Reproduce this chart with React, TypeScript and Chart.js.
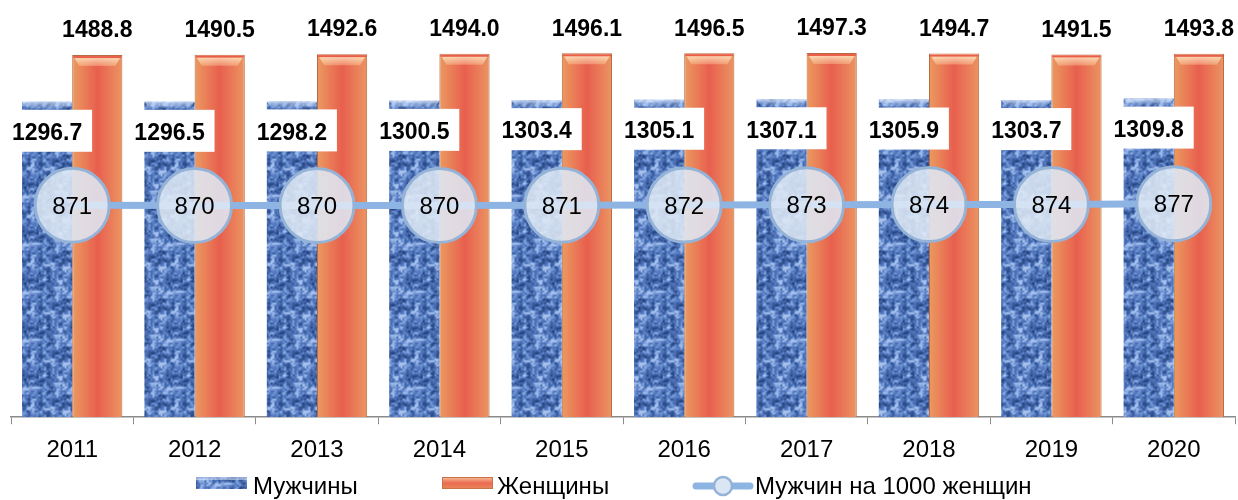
import React, { useEffect, useRef } from "react";
import { Chart, registerables } from "chart.js";

Chart.register(...registerables);

const years = ["2011", "2012", "2013", "2014", "2015", "2016", "2017", "2018", "2019", "2020"];
const men = [1296.7, 1296.5, 1298.2, 1300.5, 1303.4, 1305.1, 1307.1, 1305.9, 1303.7, 1309.8];
const women = [1488.8, 1490.5, 1492.6, 1494.0, 1496.1, 1496.5, 1497.3, 1494.7, 1491.5, 1493.8];
const ratio = [871, 870, 870, 870, 871, 872, 873, 874, 874, 877];
const seriesNames = ["Мужчины", "Женщины", "Мужчин на 1000 женщин"];

const CAT_PCT = 0.82;
const FONT = "'Liberation Sans', Arial, sans-serif";

function hash(x: number, y: number) {
  const h = Math.sin(x * 127.1 + y * 311.7) * 43758.5453;
  return h - Math.floor(h);
}

function makeTexture(): HTMLCanvasElement {
  const S = 48;
  const c = document.createElement("canvas");
  c.width = S;
  c.height = S;
  const g = c.getContext("2d")!;
  const img = g.createImageData(S, S);
  const noise = (x: number, y: number, cell: number) => {
    const n = S / cell;
    const gx = x / cell, gy = y / cell;
    const x0 = Math.floor(gx), y0 = Math.floor(gy);
    const fx = gx - x0, fy = gy - y0;
    const sx = fx * fx * (3 - 2 * fx), sy = fy * fy * (3 - 2 * fy);
    const v = (a: number, b: number) => hash(((a % n) + n) % n, ((b % n) + n) % n);
    const a = v(x0, y0) * (1 - sx) + v(x0 + 1, y0) * sx;
    const b = v(x0, y0 + 1) * (1 - sx) + v(x0 + 1, y0 + 1) * sx;
    return a * (1 - sy) + b * sy;
  };
  for (let y = 0; y < S; y++) {
    for (let x = 0; x < S; x++) {
      let t = 0.6 * noise(x, y, 4) + 0.4 * noise(x + 7, y + 3, 2);
      t = Math.min(1, Math.max(0, (t - 0.15) / 0.7));
      const dark = [38, 68, 128];
      const mid = [88, 126, 196];
      const light = [165, 192, 236];
      let col;
      if (t < 0.55) {
        const k = t / 0.55;
        col = dark.map((d, i) => d + (mid[i] - d) * k);
      } else {
        const k = (t - 0.55) / 0.45;
        col = mid.map((m, i) => m + (light[i] - m) * k);
      }
      const idx = (y * S + x) * 4;
      img.data[idx] = col[0];
      img.data[idx + 1] = col[1];
      img.data[idx + 2] = col[2];
      img.data[idx + 3] = 255;
    }
  }
  g.putImageData(img, 0, 0);
  return c;
}

export default function App() {
  const ref = useRef<HTMLCanvasElement | null>(null);

  useEffect(() => {
    const canvas = ref.current!;
    const ctx0 = canvas.getContext("2d")!;
    const texture = ctx0.createPattern(makeTexture(), "repeat")!;

    const barGeom = (chart: any, index: number, which: number) => {
      const xs = chart.scales.x;
      const center = xs.getPixelForValue(index);
      const catW = (xs.right - xs.left) / years.length;
      const w = (catW * CAT_PCT) / 2;
      const left = which === 0 ? center - w : center;
      return { left, right: left + w };
    };

    const womenBg = (c: any) => {
      if (c.type !== "data" || !c.chart.chartArea) return "#e8704f";
      const { left, right } = barGeom(c.chart, c.dataIndex, 1);
      const g = c.chart.ctx.createLinearGradient(left, 0, right, 0);
      g.addColorStop(0, "#eb9a60");
      g.addColorStop(0.5, "#e85f4e");
      g.addColorStop(1, "#eb9562");
      return g;
    };

    const bevelPlugin = {
      id: "bevel",
      afterDatasetDraw(chart: any, args: any) {
        const ds = chart.data.datasets[args.index];
        if (ds.type === "line") return;
        const c = chart.ctx;
        c.save();
        args.meta.data.forEach((el: any) => {
          const l = el.x - el.width / 2;
          const r = el.x + el.width / 2;
          const t = el.y;
          if (ds.label === seriesNames[1]) {
            const h = 11;
            const g = c.createLinearGradient(0, t, 0, t + h);
            g.addColorStop(0, "rgba(255,245,215,0.95)");
            g.addColorStop(1, "rgba(255,215,170,0.35)");
            c.fillStyle = g;
            c.beginPath();
            c.moveTo(l + 1, t + 1);
            c.lineTo(r - 1, t + 1);
            c.lineTo(r - 7, t + h);
            c.lineTo(l + 7, t + h);
            c.closePath();
            c.fill();
            c.fillStyle = "rgba(232,80,60,0.9)";
            c.fillRect(l + 1, t + 1, r - l - 2, 2);
          } else {
            const h = 7;
            const g = c.createLinearGradient(0, t, 0, t + h);
            g.addColorStop(0, "rgba(230,240,255,0.7)");
            g.addColorStop(1, "rgba(200,220,250,0.1)");
            c.fillStyle = g;
            c.beginPath();
            c.moveTo(l, t);
            c.lineTo(r, t);
            c.lineTo(r - 5, t + h);
            c.lineTo(l + 5, t + h);
            c.closePath();
            c.fill();
          }
        });
        c.restore();
      },
    };

    const labelPlugin = {
      id: "labels",
      afterDraw(chart: any) {
        const c = chart.ctx;
        c.save();
        c.textAlign = "center";
        c.textBaseline = "middle";
        const mMeta = chart.getDatasetMeta(1);
        const wMeta = chart.getDatasetMeta(2);
        const lMeta = chart.getDatasetMeta(0);
        c.font = `bold 23px ${FONT}`;
        mMeta.data.forEach((el: any, i: number) => {
          const y = el.y + 29;
          c.fillStyle = "#ffffff";
          c.fillRect(el.x - 45, y - 21, 90, 42);
          c.fillStyle = "#000000";
          c.fillText(men[i].toFixed(1), el.x, y + 3);
        });
        wMeta.data.forEach((el: any, i: number) => {
          c.fillStyle = "#000000";
          c.fillText(women[i].toFixed(1), el.x, el.y - 24);
        });
        c.font = `24px ${FONT}`;
        lMeta.data.forEach((el: any, i: number) => {
          c.fillStyle = "#000000";
          c.fillText(String(ratio[i]), el.x, el.y + 2);
        });

        // legend
        const ly = 486;
        c.textAlign = "left";
        c.font = `24px ${FONT}`;
        c.fillStyle = texture;
        c.fillRect(196, ly - 9, 51, 12);
        c.fillStyle = "rgba(225,235,255,0.5)";
        c.fillRect(196, ly - 9, 51, 3);
        c.fillStyle = "#000";
        c.fillText(seriesNames[0], 253, ly + 1);
        const g = c.createLinearGradient(0, ly - 9, 0, ly + 3);
        g.addColorStop(0, "#f7c49a");
        g.addColorStop(0.5, "#eb6a52");
        g.addColorStop(1, "#e8885a");
        c.fillStyle = g;
        c.fillRect(442, ly - 9, 51, 12);
        c.strokeStyle = "#c8744a";
        c.lineWidth = 1;
        c.strokeRect(442.5, ly - 8.5, 50, 11);
        c.fillStyle = "#000";
        c.fillText(seriesNames[1], 497, ly + 1);
        c.strokeStyle = "#8db4e2";
        c.lineWidth = 7;
        c.lineCap = "round";
        c.beginPath();
        c.moveTo(696, ly);
        c.lineTo(750, ly);
        c.stroke();
        c.beginPath();
        c.arc(723, ly, 9, 0, Math.PI * 2);
        c.fillStyle = "#dbe6f4";
        c.fill();
        c.lineWidth = 2.5;
        c.strokeStyle = "#95b3d7";
        c.stroke();
        c.fillStyle = "#000";
        c.fillText(seriesNames[2], 755, ly + 1);
        c.restore();
      },
    };

    const chart = new Chart(canvas, {
      type: "bar",
      data: {
        labels: years,
        datasets: [
          {
            type: "line",
            label: seriesNames[2],
            data: ratio,
            yAxisID: "y2",
            order: 0,
            borderColor: "#8db4e2",
            borderWidth: 7,
            pointRadius: 37,
            pointHoverRadius: 37,
            pointBackgroundColor: "rgba(222,232,245,0.88)",
            pointBorderColor: "#95b3d7",
            pointBorderWidth: 3,
            tension: 0,
            clip: false,
          } as any,
          {
            type: "bar",
            label: seriesNames[0],
            data: men,
            yAxisID: "y",
            order: 1,
            backgroundColor: texture,
            borderWidth: 0,
            categoryPercentage: CAT_PCT,
            barPercentage: 1,
          },
          {
            type: "bar",
            label: seriesNames[1],
            data: women,
            yAxisID: "y",
            order: 2,
            backgroundColor: womenBg,
            borderColor: "#b86a42",
            borderWidth: 1,
            categoryPercentage: CAT_PCT,
            barPercentage: 1,
          },
        ],
      },
      options: {
        responsive: false,
        animation: false,
        events: [],
        layout: { autoPadding: false, padding: { left: 11, right: 3, top: 28, bottom: 23 } },
        plugins: { legend: { display: false }, tooltip: { enabled: false } },
        scales: {
          x: {
            offset: true,
            grid: {
              display: true,
              offset: true,
              drawOnChartArea: false,
              drawTicks: true,
              tickLength: 7,
              color: "#8a8a8a",
            },
            border: { display: true, color: "#8a8a8a", width: 1.5 },
            ticks: { color: "#000", font: { family: FONT, size: 24 }, padding: 12 },
          },
          y: { display: false, min: 0, max: 1600 },
          y2: { display: false, min: 0, max: 1600 },
        },
      },
      plugins: [bevelPlugin, labelPlugin],
    });
    return () => chart.destroy();
  }, []);

  return (
    <div style={{ position: "absolute", left: 0, top: 0, width: 1238, height: 500, background: "#fff" }}>
      <canvas ref={ref} width={1238} height={500} style={{ width: 1238, height: 500, display: "block" }} />
    </div>
  );
}
